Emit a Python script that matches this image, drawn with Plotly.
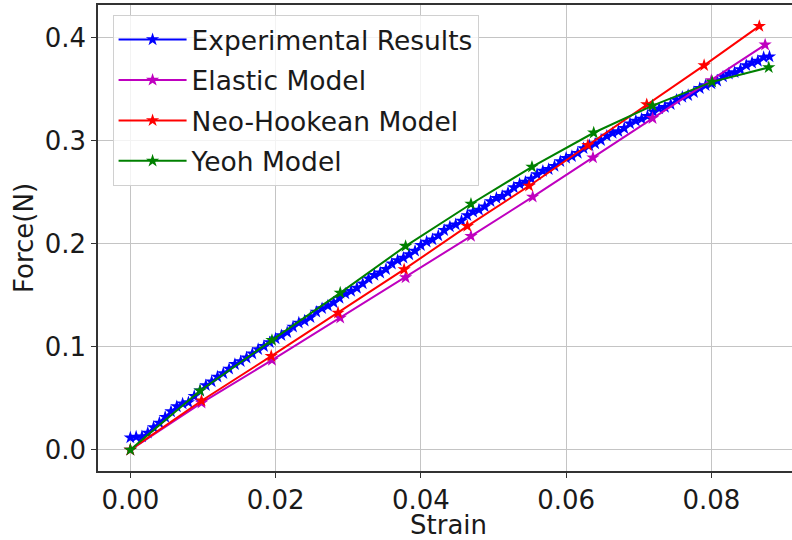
import plotly.graph_objects as go

# ---------------- data ----------------
exp_strain = [
    0.0000, 0.0008, 0.0016, 0.0024, 0.0032, 0.0040, 0.0048, 0.0056, 0.0064, 0.0072,
    0.0080, 0.0088, 0.0096, 0.0104, 0.0112, 0.0120, 0.0128, 0.0136, 0.0144, 0.0152,
    0.0160, 0.0168, 0.0176, 0.0184, 0.0192, 0.0200, 0.0208, 0.0216, 0.0224, 0.0232,
    0.0240, 0.0248, 0.0256, 0.0264, 0.0272, 0.0280, 0.0288, 0.0296, 0.0304, 0.0312,
    0.0320, 0.0328, 0.0336, 0.0344, 0.0352, 0.0360, 0.0368, 0.0376, 0.0384, 0.0392,
    0.0400, 0.0408, 0.0416, 0.0424, 0.0432, 0.0440, 0.0448, 0.0456, 0.0464, 0.0472,
    0.0480, 0.0488, 0.0496, 0.0504, 0.0512, 0.0520, 0.0528, 0.0536, 0.0544, 0.0552,
    0.0560, 0.0568, 0.0576, 0.0584, 0.0592, 0.0600, 0.0608, 0.0616, 0.0624, 0.0632,
    0.0640, 0.0648, 0.0656, 0.0664, 0.0672, 0.0680, 0.0688, 0.0696, 0.0704, 0.0712,
    0.0720, 0.0728, 0.0736, 0.0744, 0.0752, 0.0760, 0.0768, 0.0776, 0.0784, 0.0792,
    0.0800, 0.0808, 0.0816, 0.0824, 0.0832, 0.0840, 0.0848, 0.0856, 0.0864, 0.0872,
    0.0880,
]
exp_force = [
    0.0118, 0.0126, 0.0128, 0.0165, 0.0218, 0.0262, 0.0318, 0.0372, 0.0420, 0.0448,
    0.0460, 0.0520, 0.0575, 0.0625, 0.0662, 0.0708, 0.0742, 0.0785, 0.0830, 0.0858,
    0.0893, 0.0932, 0.0975, 0.1005, 0.1042, 0.1078, 0.1110, 0.1140, 0.1192, 0.1232,
    0.1252, 0.1285, 0.1338, 0.1372, 0.1398, 0.1428, 0.1472, 0.1515, 0.1540, 0.1570,
    0.1612, 0.1660, 0.1695, 0.1718, 0.1752, 0.1805, 0.1838, 0.1862, 0.1895, 0.1930,
    0.1985, 0.2018, 0.2040, 0.2078, 0.2130, 0.2165, 0.2185, 0.2222, 0.2275, 0.2310,
    0.2328, 0.2360, 0.2410, 0.2442, 0.2460, 0.2495, 0.2545, 0.2578, 0.2598, 0.2628,
    0.2672, 0.2705, 0.2722, 0.2752, 0.2798, 0.2830, 0.2848, 0.2878, 0.2925, 0.2952,
    0.2970, 0.3002, 0.3045, 0.3072, 0.3090, 0.3120, 0.3165, 0.3192, 0.3210, 0.3238,
    0.3280, 0.3310, 0.3325, 0.3352, 0.3395, 0.3422, 0.3440, 0.3468, 0.3508, 0.3535,
    0.3552, 0.3580, 0.3620, 0.3648, 0.3662, 0.3690, 0.3730, 0.3755, 0.3772, 0.3808,
    0.3815,
]

elastic_strain = [0, 0.0098, 0.0195, 0.0289, 0.0379, 0.0469, 0.0554, 0.0637, 0.0719, 0.0800, 0.0874]
elastic_force = [0, 0.0455, 0.0870, 0.1280, 0.1672, 0.2073, 0.2454, 0.2835, 0.3217, 0.3585, 0.3930]

neo_strain = [0, 0.0098, 0.0194, 0.0286, 0.0377, 0.0464, 0.0549, 0.0630, 0.0711, 0.0790, 0.0866]
neo_force = [0, 0.0476, 0.0909, 0.1329, 0.1750, 0.2170, 0.2560, 0.2955, 0.3350, 0.3730, 0.4110]

yeoh_strain = [0, 0.0096, 0.0195, 0.0289, 0.0379, 0.0469, 0.0553, 0.0638, 0.0719, 0.0801, 0.0879]
yeoh_force = [0, 0.0573, 0.1064, 0.1523, 0.1976, 0.2385, 0.2745, 0.3076, 0.3340, 0.3570, 0.3710]

x_ticks = [0.00, 0.02, 0.04, 0.06, 0.08]
x_tick_labels = ["0.00", "0.02", "0.04", "0.06", "0.08"]
y_ticks = [0.0, 0.1, 0.2, 0.3, 0.4]
y_tick_labels = ["0.0", "0.1", "0.2", "0.3", "0.4"]

series = [
    ("Experimental Results", exp_strain, exp_force, "#0000ff"),
    ("Elastic Model", elastic_strain, elastic_force, "#bf00bf"),
    ("Neo-Hookean Model", neo_strain, neo_force, "#ff0000"),
    ("Yeoh Model", yeoh_strain, yeoh_force, "#008000"),
]

FONT = "DejaVu Sans"
X_RANGE = [-0.00445, 0.0911]
X_TITLE_POS = 0.0438  # centre of the (cropped) matplotlib axes

fig = go.Figure()
for i, (name, xs, ys, col) in enumerate(series):
    fig.add_trace(go.Scatter(
        x=xs, y=ys, name=name, mode="lines+markers",
        line=dict(color=col, width=2),
        marker=dict(symbol="star", size=10, color=col, line=dict(width=0)),
        legendgroup=f"g{i}",
    ))

fig.update_layout(
    width=792, height=540,
    margin=dict(l=98, r=0, t=5, b=69, autoexpand=False),
    paper_bgcolor="white", plot_bgcolor="white",
    font=dict(family=FONT, color="#1a1a1a", size=26),
    showlegend=True,
    legend=dict(
        x=0.021, y=0.979, xanchor="left", yanchor="top",
        bgcolor="rgba(255,255,255,0.8)", bordercolor="#d0d0d0", borderwidth=1,
        font=dict(family=FONT, size=26.5, color="#1a1a1a"),
        itemwidth=68, tracegroupgap=3,
    ),
    xaxis=dict(
        range=X_RANGE, automargin=False,
        tickvals=x_ticks, ticktext=x_tick_labels,
        showgrid=True, gridcolor="#c4c4c4", gridwidth=1.3,
        zeroline=False,
        showline=True, linecolor="#333333", linewidth=1.5, mirror=True,
        ticks="outside", ticklen=5, tickwidth=1.3, tickcolor="#333333",
        tickfont=dict(size=26, family=FONT),
    ),
    yaxis=dict(
        range=[-0.02055, 0.43155], automargin=False,
        tickvals=y_ticks, ticktext=y_tick_labels,
        showgrid=True, gridcolor="#c4c4c4", gridwidth=1.3,
        zeroline=False,
        showline=True, linecolor="#333333", linewidth=1.5, mirror=False,
        ticks="outside", ticklen=5, tickwidth=1.3, tickcolor="#333333",
        tickfont=dict(size=26, family=FONT),
        title=dict(text="Force(N)", font=dict(size=26, family=FONT), standoff=4),
    ),
    annotations=[dict(
        text="Strain", xref="x", yref="paper",
        x=X_TITLE_POS, y=0, yshift=-37,
        xanchor="center", yanchor="top", showarrow=False,
        font=dict(size=26, family=FONT, color="#1a1a1a"),
    )],
)

fig.write_html(
    "out.html",
    config={"displayModeBar": False},
    post_script="document.body.style.margin='0';document.body.style.overflow='hidden';",
)
